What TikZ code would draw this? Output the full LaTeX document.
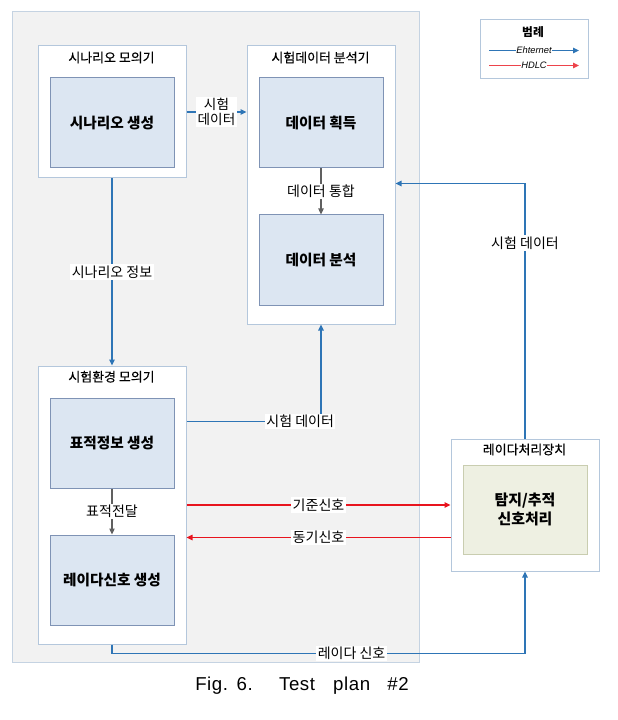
\documentclass[tikz,border=0pt]{standalone}
\usepackage{fontspec}
\setmainfont{Noto Sans CJK KR}
\newfontfamily\medfont[FakeBold=0.5]{Noto Sans CJK KR}
\newfontfamily\latinfont{Liberation Sans}
\newfontfamily\captfont[LetterSpace=3]{Liberation Sans}
\usetikzlibrary{arrows.meta}
\definecolor{lineblue}{HTML}{2E75B6}
\definecolor{panelgray}{HTML}{F2F2F2}
\definecolor{panelborder}{HTML}{C5D3E2}
\definecolor{boxborder}{HTML}{B4C7DC}
\definecolor{innerfill}{HTML}{DCE6F2}
\definecolor{innerborder}{HTML}{7F93B5}
\definecolor{greenfill}{HTML}{EEF0E2}
\definecolor{greenborder}{HTML}{C9CDB0}
\definecolor{hdlcred}{HTML}{E8141E}
\definecolor{arrgray}{HTML}{606060}
\tikzset{
  tip/.style={-{Triangle[length=4.5pt,width=4pt]}},
  outerbox/.style={draw=boxborder, fill=white, line width=0.75pt, anchor=north west, inner sep=0pt},
  innerbox/.style={draw=innerborder, fill=innerfill, line width=0.75pt, anchor=north west, inner sep=0pt,
    font=\fontsize{11pt}{13pt}\selectfont\bfseries},
  boxtitle/.style={font=\medfont\fontsize{9.7pt}{11pt}\selectfont, inner sep=0pt},
  lbl/.style={font=\fontsize{10.5pt}{12pt}\selectfont, fill=white, inner sep=1pt},
  eth/.style={draw=lineblue, line width=1.2pt, tip},
  hdlc/.style={draw=hdlcred, line width=1pt, tip},
  grayarr/.style={draw=arrgray, line width=0.9pt, tip},
  leglbl/.style={font=\latinfont\itshape\fontsize{7pt}{8pt}\selectfont, fill=white, inner sep=0.5pt},
}
\begin{document}
\begin{tikzpicture}[x=0.75pt,y=-0.75pt]
\useasboundingbox (0,0) rectangle (617,720);
% outer panel
\node[draw=panelborder, fill=panelgray, line width=0.75pt, anchor=north west, inner sep=0pt,
  minimum width=305.25pt, minimum height=487.5pt] (panel) at (11.5,11.5) {};
% scenario simulator
\node[outerbox, minimum width=111pt, minimum height=99pt] (scen) at (37.5,45.5) {};
\node[boxtitle] (scent) at (111.5,57.5) {시나리오 모의기};
\node[innerbox, minimum width=93pt, minimum height=67.5pt] (gen) at (49.5,77.5) {시나리오 생성};
% test data analyzer
\node[outerbox, minimum width=111pt, minimum height=208.5pt] (ana) at (246.5,45.5) {};
\node[boxtitle] (anat) at (320.5,57.5) {시험데이터 분석기};
\node[innerbox, minimum width=93pt, minimum height=67.5pt] (acq) at (258.5,77.5) {데이터 획득};
\node[innerbox, minimum width=93pt, minimum height=67.5pt] (dan) at (258.5,214.5) {데이터 분석};
% test environment simulator
\node[outerbox, minimum width=111pt, minimum height=208.5pt] (env) at (37.5,365.5) {};
\node[boxtitle] (envt) at (111.5,376.7) {시험환경 모의기};
\node[innerbox, minimum width=93pt, minimum height=67.5pt] (tgt) at (49.5,397.5) {표적정보 생성};
\node[innerbox, minimum width=93pt, minimum height=67.5pt] (rad) at (49.5,534.5) {레이다신호 생성};
% radar processor
\node[outerbox, minimum width=111pt, minimum height=99pt] (rp) at (450.5,438.5) {};
\node[boxtitle] (rpt) at (524.5,449.5) {레이다처리장치};
\node[draw=greenborder, fill=greenfill, line width=0.75pt, anchor=north west, inner sep=0pt,
  minimum width=93pt, minimum height=66.75pt, align=center,
  font=\fontsize{11.2pt}{13.8pt}\selectfont\bfseries] (det) at (462.5,464.5) {탐지/추적\\신호처리};
% legend
\node[outerbox, minimum width=81pt, minimum height=44.25pt] (leg) at (479.5,19.5) {};
\node[font=\fontsize{8.8pt}{10pt}\selectfont\bfseries, inner sep=0pt] (legt) at (533,31.7) {범례};
\coordinate (e1) at (489,50.5);
\coordinate (e2) at (579,50.5);
\coordinate (h1) at (489,65.5);
\coordinate (h2) at (579,65.5);
\draw[eth, line width=1pt] (e1) -- node[leglbl] (ethl) {Ehternet} (e2);
\draw[hdlc, draw=hdlcred!80, line width=1.3pt] (h1) -- node[leglbl] (hdll) {HDLC} (h2);
% connectors
\draw[eth] (scen.east) -- node[lbl, align=center, font=\fontsize{10.2pt}{11pt}\selectfont] (l1) {시험\\데이터} (ana.west |- scen.east);
\draw[grayarr] (acq.south) -- node[lbl] (l2) {데이터 통합} (dan.north);
\draw[eth] (scen.south) -- node[lbl] (l3) {시나리오 정보} (env.north);
\draw[eth] (env.east |- 0,421.5) -- node[lbl, pos=0.845] (l4) {시험 데이터} (ana.south |- 0,421.5) -- (ana.south);
\draw[grayarr] (tgt.south) -- node[lbl] (l5) {표적전달} (rad.north);
\draw[hdlc] (env.east) -- node[lbl] (l6) {기준신호} (rp.west);
\draw[hdlc] (rp.west |- 0,537.5) -- node[lbl] (l7) {동기신호} (env.east |- 0,537.5);
\draw[eth] (env.south) -- (env.south |- 0,653.5) -- node[lbl, pos=0.58] (l8) {레이다 신호} (rp.south |- 0,653.5) -- (rp.south);
\draw[eth] (rp.north) -- node[lbl, pos=0.767] (l9) {시험 데이터} (rp.north |- 0,183.5) -- (ana.east |- 0,183.5);
% caption
\node[anchor=base west, inner sep=0pt, font=\captfont\fontsize{14pt}{16pt}\selectfont] (cap) at (195,690.7)
  {Fig.\hspace{6.5pt}6.\hspace{19.7pt}Test\hspace{13.6pt}plan\hspace{13pt}\#2};
\end{tikzpicture}
\end{document}
